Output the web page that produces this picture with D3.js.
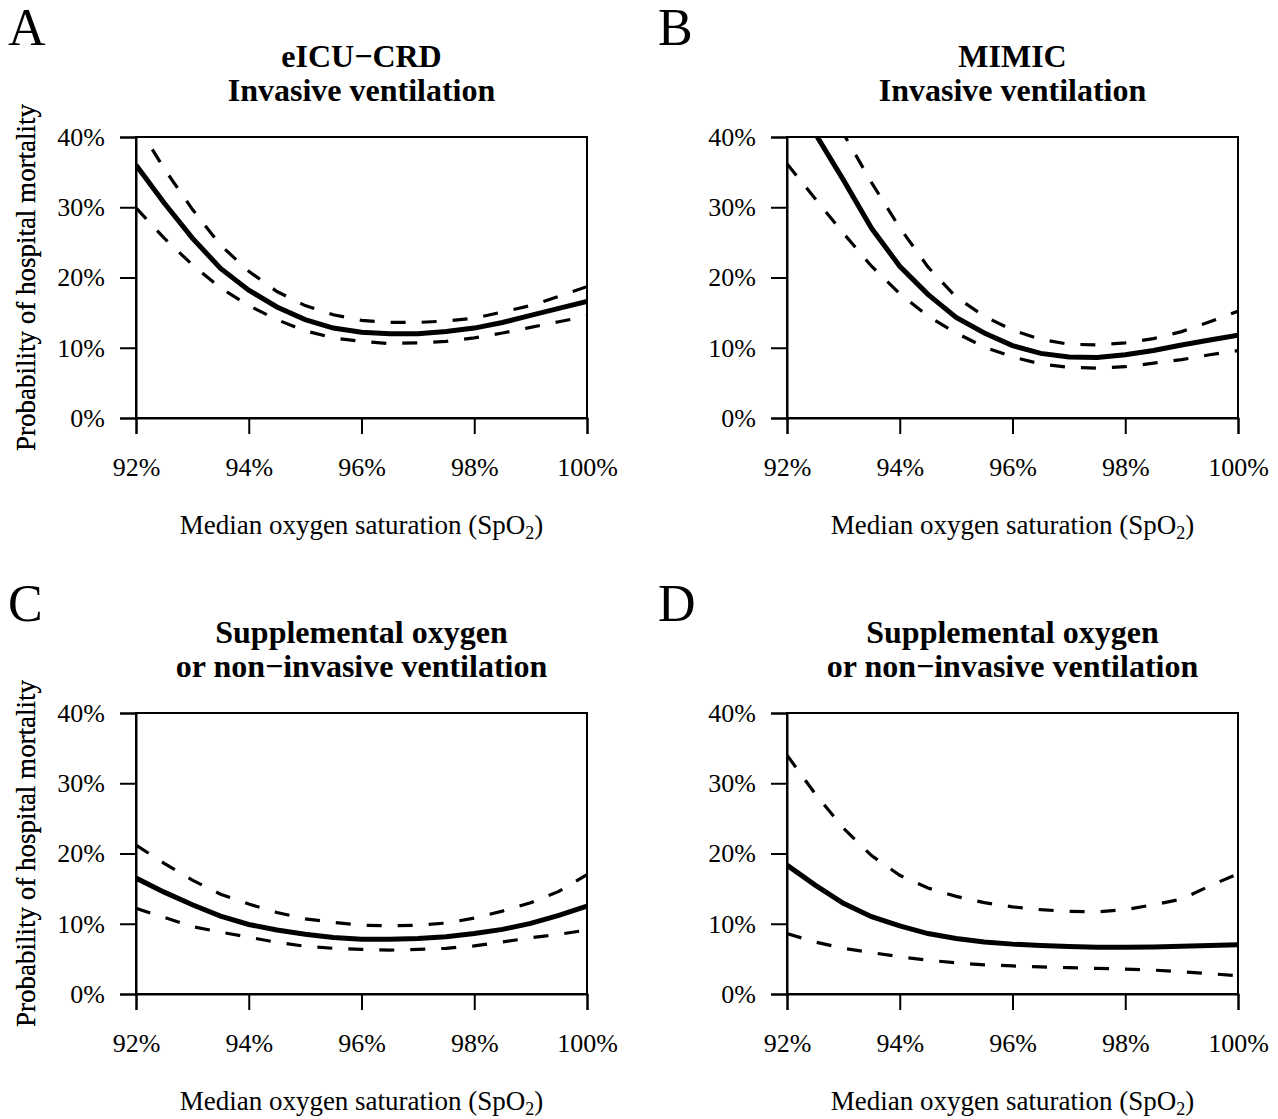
<!DOCTYPE html>
<html>
<head>
<meta charset="utf-8">
<script src="https://cdn.jsdelivr.net/npm/d3@7"></script>
<style>
  body { margin: 0; background: #fff; }
  svg { display: block; }
  text { font-family: "Liberation Serif", "Times New Roman", serif; fill: #000; }
</style>
</head>
<body>
<svg id="chart" width="1278" height="1119"></svg>
<script>
// ---- Data ----
const spo2 = [92, 92.5, 93, 93.5, 94, 94.5, 95, 95.5, 96, 96.5, 97, 97.5, 98, 98.5, 99, 99.5, 100];

const panelLetters = ["A", "B", "C", "D"];
const panelTitles = [
  ["eICU\u2212CRD", "Invasive ventilation"],
  ["MIMIC", "Invasive ventilation"],
  ["Supplemental oxygen", "or non\u2212invasive ventilation"],
  ["Supplemental oxygen", "or non\u2212invasive ventilation"]
];

const xTicks = [92, 94, 96, 98, 100];
const xTickLabels = ["92%", "94%", "96%", "98%", "100%"];
const yTicks = [0, 0.1, 0.2, 0.3, 0.4];
const yTickLabels = ["0%", "10%", "20%", "30%", "40%"];

// Panel A (eICU-CRD, invasive ventilation)
const aFit   = [0.360, 0.306, 0.256, 0.213, 0.182, 0.158, 0.140, 0.128, 0.122, 0.120, 0.120, 0.123, 0.128, 0.136, 0.146, 0.156, 0.166];
const aUpper = [0.420, 0.355, 0.297, 0.246, 0.209, 0.180, 0.160, 0.147, 0.139, 0.136, 0.136, 0.138, 0.142, 0.151, 0.160, 0.173, 0.187];
const aLower = [0.299, 0.256, 0.218, 0.185, 0.160, 0.140, 0.124, 0.114, 0.109, 0.106, 0.107, 0.109, 0.114, 0.121, 0.129, 0.137, 0.145];

// Panel B (MIMIC, invasive ventilation)
const bFit   = [0.475, 0.405, 0.339, 0.270, 0.216, 0.176, 0.143, 0.121, 0.103, 0.092, 0.087, 0.086, 0.090, 0.096, 0.104, 0.111, 0.118];
const bUpper = [0.620, 0.500, 0.405, 0.335, 0.271, 0.215, 0.172, 0.145, 0.125, 0.112, 0.105, 0.104, 0.107, 0.113, 0.123, 0.137, 0.152];
const bLower = [0.362, 0.312, 0.263, 0.216, 0.177, 0.145, 0.121, 0.101, 0.087, 0.077, 0.072, 0.071, 0.073, 0.078, 0.083, 0.090, 0.096];

// Panel C (eICU-CRD, supplemental oxygen / NIV)
const cFit   = [0.165, 0.145, 0.127, 0.111, 0.099, 0.091, 0.085, 0.0805, 0.078, 0.078, 0.079, 0.0815, 0.086, 0.092, 0.1005, 0.112, 0.125];
const cUpper = [0.212, 0.186, 0.162, 0.142, 0.128, 0.116, 0.107, 0.102, 0.098, 0.097, 0.098, 0.101, 0.108, 0.118, 0.130, 0.146, 0.170];
const cLower = [0.122, 0.109, 0.096, 0.088, 0.081, 0.0735, 0.068, 0.065, 0.0635, 0.0625, 0.0635, 0.065, 0.0685, 0.074, 0.080, 0.085, 0.091];

// Panel D (MIMIC, supplemental oxygen / NIV)
const dFit   = [0.1835, 0.155, 0.129, 0.110, 0.097, 0.086, 0.079, 0.074, 0.071, 0.069, 0.0675, 0.0665, 0.0665, 0.067, 0.068, 0.069, 0.070];
const dUpper = [0.340, 0.285, 0.236, 0.197, 0.169, 0.151, 0.139, 0.130, 0.124, 0.120, 0.1175, 0.117, 0.120, 0.127, 0.135, 0.154, 0.171];
const dLower = [0.086, 0.074, 0.065, 0.059, 0.053, 0.048, 0.0445, 0.0415, 0.040, 0.0385, 0.0375, 0.0365, 0.0355, 0.034, 0.0315, 0.029, 0.026];

const panelSeries = [
  { fit: aFit, upper: aUpper, lower: aLower },
  { fit: bFit, upper: bUpper, lower: bLower },
  { fit: cFit, upper: cUpper, lower: cLower },
  { fit: dFit, upper: dUpper, lower: dLower }
];

// ---- Layout ----
const boxLeft = [136, 787];
const boxWidth = 451;
const boxTop = [137, 713];
const boxHeight = 281;

const svg = d3.select("#chart");

panelSeries.forEach((s, i) => {
  const col = i % 2, row = Math.floor(i / 2);
  const x0 = boxLeft[col], y0 = boxTop[row];
  const g = svg.append("g").attr("transform", `translate(${x0},${y0})`);

  const x = d3.scaleLinear().domain([92, 100]).range([0, boxWidth]);
  const y = d3.scaleLinear().domain([0, 0.4]).range([boxHeight, 0]);

  const clipId = "clip" + i;
  g.append("clipPath").attr("id", clipId)
    .append("rect").attr("x", 0).attr("y", 0).attr("width", boxWidth).attr("height", boxHeight);

  const line = d3.line().x((d, k) => x(spo2[k])).y(d => y(d));

  const plot = g.append("g").attr("clip-path", `url(#${clipId})`);
  plot.append("path").datum(s.upper).attr("d", line)
    .attr("fill", "none").attr("stroke", "#000").attr("stroke-width", 3.2)
    .attr("stroke-dasharray", "15,16");
  plot.append("path").datum(s.lower).attr("d", line)
    .attr("fill", "none").attr("stroke", "#000").attr("stroke-width", 3.2)
    .attr("stroke-dasharray", "15,16");
  plot.append("path").datum(s.fit).attr("d", line)
    .attr("fill", "none").attr("stroke", "#000").attr("stroke-width", 5);

  // box
  g.append("rect").attr("x", 0).attr("y", 0).attr("width", boxWidth).attr("height", boxHeight)
    .attr("fill", "none").attr("stroke", "#000").attr("stroke-width", 2);

  // x axis
  const xAxis = d3.axisBottom(x).tickValues(xTicks)
    .tickFormat((d, k) => xTickLabels[k]).tickSize(16).tickPadding(24);
  const xg = g.append("g").attr("transform", `translate(0,${boxHeight})`).call(xAxis);
  xg.attr("font-family", null).attr("font-size", null);
  xg.select(".domain").attr("stroke-width", 2);
  xg.selectAll(".tick line").attr("stroke-width", 2);
  xg.selectAll(".tick text").attr("font-size", 26);

  // y axis
  const yAxis = d3.axisLeft(y).tickValues(yTicks)
    .tickFormat((d, k) => yTickLabels[k]).tickSize(16).tickPadding(15);
  const yg = g.append("g").call(yAxis);
  yg.attr("font-family", null).attr("font-size", null);
  yg.select(".domain").attr("stroke-width", 2);
  yg.selectAll(".tick line").attr("stroke-width", 2);
  yg.selectAll(".tick text").attr("font-size", 26);

  // y label
  g.append("text")
    .attr("transform", `translate(${-x0 + 35},${boxHeight / 2}) rotate(-90)`)
    .attr("text-anchor", "middle").attr("font-size", 27)
    .text("Probability of hospital mortality");

  // x label with subscript
  const xl = g.append("text")
    .attr("x", boxWidth / 2).attr("y", boxHeight + 116)
    .attr("text-anchor", "middle").attr("font-size", 27);
  xl.append("tspan").text("Median oxygen saturation (SpO");
  xl.append("tspan").attr("font-size", 18).attr("dy", 5).text("2");
  xl.append("tspan").attr("dy", -5).text(")");

  // title
  const t = g.append("text").attr("text-anchor", "middle")
    .attr("font-size", 32).attr("font-weight", "bold");
  t.append("tspan").attr("x", boxWidth / 2).attr("y", -70).text(panelTitles[i][0]);
  t.append("tspan").attr("x", boxWidth / 2).attr("y", -36).text(panelTitles[i][1]);

  // panel letter
  svg.append("text")
    .attr("x", col === 0 ? 8 : 658).attr("y", y0 - 92)
    .attr("font-size", 52)
    .text(panelLetters[i]);
});
</script>
</body>
</html>
